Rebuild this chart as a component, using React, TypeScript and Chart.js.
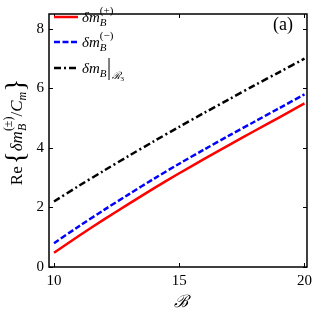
import React, { useEffect, useRef } from "react";
import { Chart, registerables } from "chart.js";

Chart.register(...registerables);

const xValues = [10, 11, 12, 13, 14, 15, 16, 17, 18, 19, 20];
const plusValues = [0.48, 1.05, 1.6, 2.13, 2.65, 3.15, 3.63, 4.1, 4.57, 5.03, 5.5];
const minusValues = [0.8, 1.37, 1.92, 2.45, 2.97, 3.47, 3.95, 4.42, 4.88, 5.34, 5.8];
const r3Values = [2.2, 2.73, 3.24, 3.74, 4.23, 4.71, 5.18, 5.64, 6.1, 6.55, 7.0];
const xTicks = [10, 15, 20];
const yTicks = [0, 2, 4, 6, 8];
const panelLabel = "(a)";

const SERIF = '"Liberation Serif", "DejaVu Serif", serif';

type Seg = { t: string; f: string; dy?: number; noAdv?: boolean };

function drawRich(ctx: CanvasRenderingContext2D, x: number, y: number, segs: Seg[], draw = true): number {
  let w = 0;
  let pendingMax = 0;
  for (const s of segs) {
    ctx.font = s.f;
    const mw = ctx.measureText(s.t).width;
    if (draw) ctx.fillText(s.t, x + w, y + (s.dy || 0));
    if (s.noAdv) {
      pendingMax = Math.max(pendingMax, mw);
    } else {
      w += Math.max(mw, pendingMax);
      pendingMax = 0;
    }
  }
  return w + pendingMax;
}

const it = (px: number) => `italic ${px}px ${SERIF}`;
const up = (px: number) => `${px}px ${SERIF}`;

const decorPlugin = {
  id: "decor",
  afterDraw(chart: any) {
    const ctx: CanvasRenderingContext2D = chart.ctx;
    const { left, right, top, bottom } = chart.chartArea;
    const xs = chart.scales.x;
    const ys = chart.scales.y;
    ctx.save();
    ctx.setLineDash([]);
    ctx.strokeStyle = "#000";
    ctx.lineWidth = 1.5;
    ctx.strokeRect(left, top, right - left, bottom - top);
    ctx.lineWidth = 1;
    const tl = 4;
    ctx.beginPath();
    for (const v of xTicks) {
      const p = Math.round(xs.getPixelForValue(v)) + 0.5;
      ctx.moveTo(p, bottom);
      ctx.lineTo(p, bottom - tl);
      ctx.moveTo(p, top);
      ctx.lineTo(p, top + tl);
    }
    for (const v of yTicks) {
      const p = Math.round(ys.getPixelForValue(v)) + 0.5;
      ctx.moveTo(left, p);
      ctx.lineTo(left + tl, p);
      ctx.moveTo(right, p);
      ctx.lineTo(right - tl, p);
    }
    ctx.stroke();

    // legend
    const rows = [
      { y: 17, color: "#ff0000", dash: [] as number[] },
      { y: 42, color: "#0000ff", dash: [6, 2.5] },
      { y: 68, color: "#000000", dash: [7, 3, 2, 3] },
    ];
    const lx0 = 54;
    const lx1 = 78;
    for (const r of rows) {
      ctx.beginPath();
      ctx.strokeStyle = r.color;
      ctx.lineWidth = 2.5;
      ctx.setLineDash(r.dash);
      ctx.moveTo(lx0, r.y);
      ctx.lineTo(lx1, r.y);
      ctx.stroke();
    }
    ctx.setLineDash([]);
    ctx.fillStyle = "#000";
    ctx.textBaseline = "alphabetic";
    ctx.textAlign = "left";
    const tx = 82;
    drawRich(ctx, tx, rows[0].y + 5, [
      { t: "δm", f: it(15) },
      { t: "B", f: it(11), dy: 4, noAdv: true },
      { t: "(+)", f: up(11), dy: -8 },
    ]);
    drawRich(ctx, tx, rows[1].y + 5, [
      { t: "δm", f: it(15) },
      { t: "B", f: it(11), dy: 4, noAdv: true },
      { t: "(−)", f: up(11), dy: -8 },
    ]);
    const w3 = drawRich(ctx, tx, rows[2].y + 5, [
      { t: "δm", f: it(15) },
      { t: "B", f: it(11), dy: 4 },
    ]);
    ctx.beginPath();
    ctx.strokeStyle = "#000";
    ctx.lineWidth = 1;
    ctx.moveTo(tx + w3 + 2.5, rows[2].y - 10);
    ctx.lineTo(tx + w3 + 2.5, rows[2].y + 12);
    ctx.stroke();
    drawRich(ctx, tx + w3 + 5, rows[2].y + 11, [
      { t: "ℛ", f: it(10) },
      { t: "3", f: up(7), dy: 2 },
    ]);

    // panel label
    ctx.font = up(18);
    ctx.textAlign = "center";
    ctx.textBaseline = "middle";
    ctx.fillText(panelLabel, 283, 25);

    // x title
    ctx.font = it(17);
    ctx.fillText("ℬ", 181, 303);

    // y title
    ctx.textAlign = "left";
    ctx.textBaseline = "alphabetic";
    const ySegs: Seg[] = [
      { t: "Re", f: up(17) },
      { t: " ", f: up(8) },
      { t: "{", f: up(27), dy: 2 },
      { t: "δm", f: it(17) },
      { t: "B", f: it(12), dy: 4, noAdv: true },
      { t: "(±)", f: up(12), dy: -10 },
      { t: "/", f: up(17) },
      { t: "C", f: it(17) },
      { t: "m", f: it(12), dy: 4 },
      { t: "}", f: up(27), dy: 2 },
    ];
    ctx.save();
    ctx.translate(22, 132);
    ctx.rotate(-Math.PI / 2);
    const wy = drawRich(ctx, 0, 0, ySegs, false);
    drawRich(ctx, -wy / 2, 0, ySegs, true);
    ctx.restore();

    ctx.restore();
  },
};

export default function App() {
  const ref = useRef<HTMLCanvasElement | null>(null);
  useEffect(() => {
    if (!ref.current) return;
    const chart = new Chart(ref.current, {
      type: "line",
      data: {
        labels: xValues,
        datasets: [
          {
            data: xValues.map((x, i) => ({ x, y: plusValues[i] })),
            borderColor: "#ff0000",
            borderWidth: 2.5,
            pointRadius: 0,
            tension: 0.3,
          },
          {
            data: xValues.map((x, i) => ({ x, y: minusValues[i] })),
            borderColor: "#0000ff",
            borderWidth: 2.5,
            borderDash: [6, 2.5],
            pointRadius: 0,
            tension: 0.3,
          },
          {
            data: xValues.map((x, i) => ({ x, y: r3Values[i] })),
            borderColor: "#000000",
            borderWidth: 2.5,
            borderDash: [7, 3, 2, 3],
            pointRadius: 0,
            tension: 0.3,
          },
        ],
      },
      options: {
        animation: false,
        responsive: false,
        devicePixelRatio: 1,
        layout: { padding: { left: 0, top: 1, right: 2, bottom: 0 } },
        plugins: { legend: { display: false }, tooltip: { enabled: false } },
        scales: {
          x: {
            type: "linear",
            min: 9.8,
            max: 20.1,
            grid: { display: false, drawTicks: false },
            border: { display: false },
            ticks: { color: "#000", font: { family: SERIF, size: 15 }, padding: 5, maxRotation: 0 },
            afterBuildTicks: (s: any) => {
              s.ticks = xTicks.map((v) => ({ value: v }));
            },
            afterFit: (s: any) => {
              s.height = 44;
            },
          },
          y: {
            type: "linear",
            min: 0,
            max: 8.5,
            grid: { display: false, drawTicks: false },
            border: { display: false },
            ticks: { color: "#000", font: { family: SERIF, size: 15 }, padding: 5 },
            afterBuildTicks: (s: any) => {
              s.ticks = yTicks.map((v) => ({ value: v }));
            },
            afterFit: (s: any) => {
              s.width = 49;
            },
          },
        },
      },
      plugins: [decorPlugin],
    } as any);
    return () => chart.destroy();
  }, []);
  return (
    <div style={{ position: "fixed", left: 0, top: 0, width: 317, height: 311, background: "#fff" }}>
      <canvas ref={ref} width={317} height={311} style={{ width: 317, height: 311, display: "block" }} />
    </div>
  );
}
